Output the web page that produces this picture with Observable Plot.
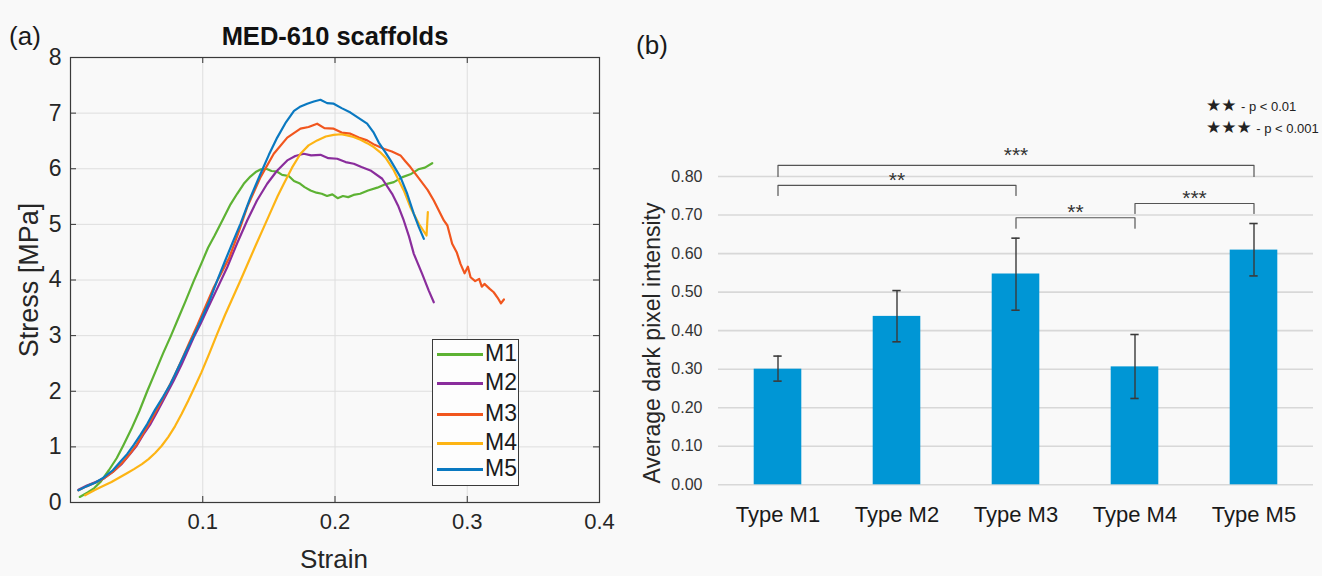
<!DOCTYPE html>
<html><head><meta charset="utf-8">
<script src="https://cdn.jsdelivr.net/npm/d3@7"></script>
<script src="https://cdn.jsdelivr.net/npm/@observablehq/plot@0.6"></script>
<style>
body{margin:0;background:#f9f9f9;font-family:"Liberation Sans",Arial,sans-serif;color:#1a1a1a;}
#wrap{position:relative;width:1322px;height:576px;overflow:hidden;}
#wrap svg{position:absolute;top:0;}
.abs{position:absolute;white-space:nowrap;line-height:1;}
.c{transform:translate(-50%,-50%);}
.rot{transform:translate(-50%,-50%) rotate(-90deg);}
#legA{position:absolute;left:432px;top:339px;width:87px;height:147px;border:1px solid #3a3a3a;background:#fdfdfd;box-sizing:border-box;}
#legA .row{position:absolute;left:4px;height:0;}
#legA .ln{position:absolute;left:0;width:46px;height:3px;top:-1.5px;}
#legA .tx{position:absolute;left:48px;top:-12px;font-size:23px;line-height:1;color:#1a1a1a;}
</style></head><body><div id="wrap"></div>
<script>
// ---------- Panel (a) data: stress-strain curves ----------
const seriesNames = ["M1", "M2", "M3", "M4", "M5"];
const seriesColors = ["#5db233", "#8a2d9c", "#f1561e", "#fdb414", "#0a79c1"];
const m1 = [[0.007,0.10],[0.013,0.18],[0.018,0.26],[0.023,0.38],[0.029,0.58],[0.035,0.80],[0.040,1.03],[0.046,1.32],[0.052,1.64],[0.058,2.00],[0.064,2.34],[0.070,2.68],[0.076,3.00],[0.082,3.34],[0.087,3.62],[0.093,3.97],[0.099,4.30],[0.104,4.58],[0.109,4.80],[0.115,5.08],[0.121,5.36],[0.126,5.55],[0.131,5.73],[0.136,5.86],[0.140,5.94],[0.144,5.99],[0.148,6.00],[0.152,5.96],[0.156,5.95],[0.160,5.89],[0.165,5.87],[0.169,5.78],[0.173,5.74],[0.177,5.67],[0.1815,5.61],[0.186,5.57],[0.190,5.55],[0.194,5.51],[0.198,5.54],[0.202,5.47],[0.206,5.51],[0.210,5.49],[0.214,5.53],[0.219,5.55],[0.225,5.61],[0.232,5.66],[0.238,5.72],[0.2445,5.76],[0.251,5.85],[0.257,5.90],[0.263,5.99],[0.268,6.02],[0.2735,6.10]];
const m2 = [[0.006,0.23],[0.012,0.30],[0.019,0.37],[0.025,0.43],[0.032,0.55],[0.039,0.70],[0.045,0.87],[0.050,1.02],[0.055,1.22],[0.0605,1.41],[0.066,1.65],[0.072,1.92],[0.078,2.19],[0.084,2.48],[0.090,2.80],[0.0932,2.97],[0.0983,3.21],[0.104,3.50],[0.110,3.80],[0.1185,4.23],[0.126,4.66],[0.1336,5.07],[0.141,5.43],[0.1487,5.73],[0.156,5.96],[0.1639,6.15],[0.170,6.23],[0.1764,6.27],[0.182,6.24],[0.189,6.25],[0.195,6.19],[0.2017,6.18],[0.208,6.12],[0.2142,6.09],[0.220,6.03],[0.2268,5.97],[0.2357,5.82],[0.2432,5.55],[0.248,5.32],[0.252,5.07],[0.256,4.78],[0.2596,4.47],[0.2659,4.11],[0.2709,3.81],[0.2747,3.60]];
const m3 = [[0.006,0.22],[0.012,0.29],[0.019,0.36],[0.025,0.43],[0.032,0.55],[0.039,0.71],[0.045,0.88],[0.050,1.04],[0.055,1.24],[0.060,1.44],[0.066,1.70],[0.072,1.97],[0.078,2.25],[0.084,2.56],[0.090,2.88],[0.096,3.19],[0.102,3.52],[0.108,3.85],[0.114,4.12],[0.120,4.40],[0.127,4.85],[0.1336,5.31],[0.1437,5.85],[0.1537,6.27],[0.1639,6.56],[0.1739,6.72],[0.180,6.75],[0.1865,6.81],[0.192,6.73],[0.199,6.72],[0.205,6.65],[0.2117,6.63],[0.218,6.56],[0.2243,6.51],[0.230,6.43],[0.2369,6.36],[0.243,6.31],[0.2495,6.24],[0.253,6.14],[0.257,6.03],[0.2646,5.79],[0.270,5.62],[0.2747,5.43],[0.2823,5.07],[0.285,4.98],[0.2886,4.65],[0.292,4.50],[0.2949,4.29],[0.298,4.12],[0.3005,4.24],[0.3025,4.05],[0.306,3.98],[0.309,4.02],[0.311,3.88],[0.313,3.93],[0.317,3.84],[0.320,3.78],[0.323,3.68],[0.3255,3.58],[0.3277,3.65]];
const m4 = [[0.011,0.13],[0.018,0.22],[0.025,0.30],[0.031,0.37],[0.037,0.45],[0.043,0.53],[0.048,0.60],[0.054,0.69],[0.059,0.78],[0.064,0.89],[0.069,1.02],[0.074,1.18],[0.079,1.37],[0.084,1.59],[0.089,1.83],[0.094,2.08],[0.099,2.34],[0.105,2.68],[0.1109,3.03],[0.117,3.38],[0.123,3.70],[0.1285,3.99],[0.1345,4.32],[0.140,4.62],[0.1462,4.95],[0.152,5.26],[0.1565,5.50],[0.1613,5.73],[0.1675,6.02],[0.1739,6.27],[0.180,6.42],[0.1865,6.51],[0.193,6.58],[0.199,6.61],[0.2045,6.62],[0.2092,6.60],[0.214,6.57],[0.2193,6.52],[0.2243,6.46],[0.2293,6.39],[0.234,6.30],[0.2382,6.20],[0.2445,5.97],[0.248,5.80],[0.252,5.61],[0.257,5.31],[0.2634,5.01],[0.2692,4.80],[0.2702,5.22]];
const m5 = [[0.006,0.22],[0.012,0.29],[0.019,0.36],[0.0252,0.45],[0.032,0.58],[0.038,0.74],[0.0428,0.87],[0.048,1.04],[0.053,1.22],[0.058,1.41],[0.064,1.67],[0.070,1.90],[0.0756,2.13],[0.081,2.40],[0.087,2.70],[0.0932,3.00],[0.099,3.30],[0.105,3.62],[0.1109,3.99],[0.117,4.35],[0.123,4.70],[0.1285,5.01],[0.136,5.48],[0.1437,5.91],[0.150,6.25],[0.1563,6.56],[0.163,6.84],[0.169,7.04],[0.174,7.12],[0.179,7.17],[0.184,7.21],[0.189,7.24],[0.194,7.18],[0.199,7.17],[0.205,7.09],[0.2117,7.01],[0.218,6.91],[0.2243,6.81],[0.229,6.66],[0.2331,6.47],[0.238,6.30],[0.242,6.15],[0.2495,5.85],[0.2546,5.55],[0.2596,5.19],[0.2634,4.95],[0.2672,4.74]];
const curves = [m1, m2, m3, m4, m5];
const strainTicks = [0.1, 0.2, 0.3, 0.4];
const stressTicks = [0, 1, 2, 3, 4, 5, 6, 7, 8];

// ---------- Panel (b) data: bar chart ----------
const categories = ["Type M1", "Type M2", "Type M3", "Type M4", "Type M5"];
const meanIntensity = [0.300, 0.437, 0.547, 0.306, 0.609];
const errLow = [0.269, 0.371, 0.453, 0.224, 0.542];
const errHigh = [0.334, 0.504, 0.640, 0.390, 0.678];
const intensityTicks = [0, 0.1, 0.2, 0.3, 0.4, 0.5, 0.6, 0.7, 0.8];
const bracketFrom = [0, 0, 2, 3];
const bracketTo = [4, 2, 3, 4];
const bracketTop = [0.829, 0.777, 0.693, 0.730];
const bracketFoot = [0.800, 0.751, 0.666, 0.704];
const bracketLabel = ["***", "**", "**", "***"];
const bracketLabelY = [0.868, 0.803, 0.721, 0.756];

const wrap = document.getElementById("wrap");

// ---------- Panel (a) ----------
const lineData = [];
curves.forEach((c, i) => c.forEach(([s, t]) => lineData.push({series: seriesNames[i], strain: s, stress: t})));
const AW = 640, AH = 576, AML = 70, AMR = 41, AMT = 57, AMB = 74;
const aPW = AW - AML - AMR, aPH = AH - AMT - AMB;
const left = Plot.plot({
  width: AW, height: AH, marginLeft: AML, marginRight: AMR, marginTop: AMT, marginBottom: AMB,
  style: {background: "transparent", fontFamily: "Liberation Sans, Arial, sans-serif", color: "#262626", overflow: "visible"},
  x: {domain: [0, 0.4]},
  y: {domain: [0, 8]},
  color: {domain: seriesNames, range: seriesColors},
  marks: [
    Plot.gridX(strainTicks.slice(0, 3), {stroke: "#dedede", strokeOpacity: 1}),
    Plot.gridY(stressTicks.slice(1, 8), {stroke: "#dedede", strokeOpacity: 1}),
    Plot.ruleX(strainTicks.slice(0, 3), {insetTop: aPH - 6, stroke: "#333"}),
    Plot.ruleX(strainTicks.slice(0, 3), {insetBottom: aPH - 6, stroke: "#333"}),
    Plot.ruleY(stressTicks.slice(1, 8), {insetRight: aPW - 6, stroke: "#333"}),
    Plot.ruleY(stressTicks.slice(1, 8), {insetLeft: aPW - 6, stroke: "#333"}),
    Plot.axisX({ticks: strainTicks, tickFormat: d => d.toFixed(1), tickSize: 0, tickPadding: 11, fontSize: 22, label: null}),
    Plot.axisY({ticks: stressTicks, tickFormat: d => String(d), tickSize: 0, tickPadding: 9, fontSize: 23, label: null}),
    Plot.line(lineData, {x: "strain", y: "stress", z: "series", stroke: "series", strokeWidth: 2.2}),
    Plot.frame({stroke: "#3a3a3a", strokeWidth: 1.2})
  ]
});
left.style.left = "0px";
wrap.appendChild(left);

// ---------- Panel (b) ----------
const barData = categories.map((c, i) => ({i, cat: c, mean: meanIntensity[i], lo: errLow[i], hi: errHigh[i]}));
const bracketPts = [];
bracketFrom.forEach((f, k) => {
  const t = bracketTo[k];
  bracketPts.push({k, x: f, y: bracketFoot[k]}, {k, x: f, y: bracketTop[k]}, {k, x: t, y: bracketTop[k]}, {k, x: t, y: bracketFoot[k]});
});
const bracketText = bracketFrom.map((f, k) => ({x: (f + bracketTo[k]) / 2, y: bracketLabelY[k], label: bracketLabel[k]}));
const BW = 682;
const right = Plot.plot({
  width: BW, height: 576, marginLeft: 78, marginRight: 9, marginTop: 176, marginBottom: 91.7,
  style: {background: "transparent", fontFamily: "Liberation Sans, Arial, sans-serif", color: "#333", overflow: "visible"},
  x: {domain: [-0.5, 4.5]},
  y: {domain: [0, 0.8]},
  marks: [
    Plot.gridY(intensityTicks, {stroke: "#d8d8d8", strokeOpacity: 1, strokeWidth: 1.6}),
    Plot.axisY({ticks: intensityTicks, tickFormat: d3.format(".2f"), tickSize: 0, tickPadding: 16, fontSize: 16, label: null}),
    Plot.axisX({ticks: [0, 1, 2, 3, 4], tickFormat: i => categories[i], tickSize: 0, tickPadding: 22, fontSize: 22, label: null, fill: "#1a1a1a"}),
    Plot.rectY(barData, {x1: d => d.i - 0.2, x2: d => d.i + 0.2, y: "mean", fill: "#0096d5"}),
    Plot.ruleX(barData, {x: "i", y1: "lo", y2: "hi", stroke: "#3a3a3a", strokeWidth: 1.4}),
    Plot.ruleY(barData, {x1: d => d.i - 0.035, x2: d => d.i + 0.035, y: "hi", stroke: "#3a3a3a", strokeWidth: 1.6}),
    Plot.ruleY(barData, {x1: d => d.i - 0.035, x2: d => d.i + 0.035, y: "lo", stroke: "#3a3a3a", strokeWidth: 1.6}),
    Plot.line(bracketPts, {x: "x", y: "y", z: "k", stroke: "#555", strokeWidth: 1.2}),
    Plot.text(bracketText, {x: "x", y: "y", text: "label", fontSize: 21, dy: 5, fill: "#333"})
  ]
});
right.style.left = (1322 - BW) + "px";
wrap.appendChild(right);

// ---------- Text labels ----------
function addText(html, x, y, css, cls) {
  const d = document.createElement("div");
  d.className = "abs " + (cls || "c");
  d.style.left = x + "px"; d.style.top = y + "px";
  d.style.cssText += css;
  d.innerHTML = html;
  wrap.appendChild(d);
  return d;
}
addText("(a)", 25, 36, "font-size:26px;");
addText("MED-610 scaffolds", 335, 37, "font-size:25.5px;font-weight:bold;color:#111;");
addText("Strain", 334, 559, "font-size:26px;color:#262626;");
addText("Stress [MPa]", 29, 280, "font-size:27px;color:#262626;", "rot");
addText("(b)", 652, 45, "font-size:26px;");
addText("Average dark pixel intensity", 652, 343, "font-size:23px;color:#262626;", "rot");
addText('<span style="font-family:DejaVu Sans;font-size:17px">★★</span> <span style="font-size:13px">- p &lt; 0.01</span>', 1206, 97, "color:#222;", "x");
addText('<span style="font-family:DejaVu Sans;font-size:17px">★★★</span> <span style="font-size:13px">- p &lt; 0.001</span>', 1206, 119, "color:#222;", "x");

// ---------- Legend (a) ----------
const leg = document.createElement("div");
leg.id = "legA";
const rowY = [14, 43, 74, 103, 129];
seriesNames.forEach((n, i) => {
  const r = document.createElement("div");
  r.className = "row"; r.style.top = rowY[i] + "px";
  r.innerHTML = `<div class="ln" style="background:${seriesColors[i]}"></div><div class="tx">${n}</div>`;
  leg.appendChild(r);
});
wrap.appendChild(leg);
</script></body></html>
